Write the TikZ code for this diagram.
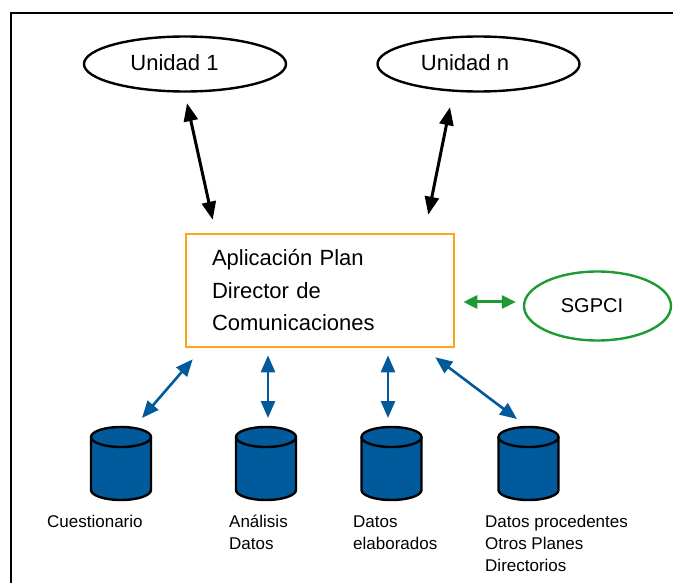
\documentclass[tikz,border=0pt]{standalone}
\usepackage{fontspec}
\setmainfont{Liberation Sans}
\usetikzlibrary{arrows.meta,calc,shapes.geometric}
\definecolor{dbblue}{HTML}{005A9B}
\definecolor{boxorange}{HTML}{FBA51A}
\definecolor{sggreen}{HTML}{1E9A35}
\tikzset{
  dbcyl/.pic={
    \coordinate (-top) at (0,0);
    \path[fill=dbblue, draw=black, line width=2.4pt, line join=round]
      (-30,10) -- (-30,63) arc[start angle=180, end angle=360, x radius=30pt, y radius=10pt]
      -- (30,10) arc[start angle=0, end angle=180, x radius=30pt, y radius=10pt] -- cycle;
    \draw[line width=2.4pt] (-30,10) arc[start angle=180, end angle=360, x radius=30pt, y radius=10pt];
  }
}
\begin{document}
\begin{tikzpicture}[x=1pt,y=-1pt,
  unit/.style={ellipse, draw=black, line width=2.4pt, minimum width=202pt, minimum height=55pt, inner sep=0pt},
  sgpci/.style={ellipse, draw=sggreen, line width=2.4pt, minimum width=147pt, minimum height=69pt, inner sep=0pt},
  bigtext/.style={font=\fontsize{22}{26}\selectfont, inner sep=0pt},
  mainbox/.style={draw=boxorange, line width=2.6pt, minimum width=268pt, minimum height=113pt,
    text width=216pt, inner xsep=26pt, inner ysep=0pt, align=left,
    font=\fontsize{22}{32.5}\selectfont},
  lbl/.style={font=\fontsize{17}{22}\selectfont, inner sep=0pt, align=left, anchor=base west},
  blackarrow/.style={line width=3pt, {Triangle[length=18pt,width=14pt]}-{Triangle[length=18pt,width=14pt]}},
  bluearrow/.style={draw=dbblue, line width=2.6pt, {Triangle[length=17pt,width=14pt]}-{Triangle[length=17pt,width=14pt]}},
  greenarrow/.style={draw=sggreen, line width=3pt, {Triangle[length=14pt,width=13pt]}-{Triangle[length=14pt,width=13pt]}}
]
\useasboundingbox (0,0) rectangle (673,583);
\clip (0,0) rectangle (673,583);
\draw[line width=2.6pt] (11,13) rectangle (720,640);

% top units
\node[unit] (u1) at (185,64) {};
\node[bigtext] (u1t) at (174.5,63) {Unidad 1};
\node[unit] (u2) at (478.5,64) {};
\node[bigtext] (u2t) at (465,63) {Unidad n};

% main application box
\node[mainbox] (box) at (320,290.5) {Aplicación Plan\\Director de\\Comunicaciones};

% SGPCI
\node[sgpci] (s) at (597.5,306) {};
\node[bigtext, font=\fontsize{20}{24}\selectfont] (st) at (592,306) {SGPCI};

% databases
\pic (c1) at (121,427) {dbcyl};
\pic (c2) at (266,427) {dbcyl};
\pic (c3) at (391.5,427) {dbcyl};
\pic (c4) at (528.5,427) {dbcyl};

% labels (base anchor = baseline of last line)
\node[lbl] (l1) at (47,527) {Cuestionario};
\node[lbl] (l2) at (229,549) {Análisis\\Datos};
\node[lbl] (l3) at (353,549) {Datos\\elaborados};
\node[lbl] (l4) at (485,571) {Datos procedentes\\Otros Planes\\Directorios};

% connectors
\draw[blackarrow] ($(u1.south)+(2,10.5)$) -- ($(box.north west)+(28,-13)$);
\draw[blackarrow] ($(u2.south)+(-28.5,14.5)$) -- ($(box.north east)+(-27,-18)$);
\draw[greenarrow] ($(box.east)+(8,11.5)$) -- ($(s.west)+(-7,-4)$);
\draw[bluearrow] ($(box.south west)+(8,11)$) -- ($(c1-top)+(21,-9)$);
\draw[bluearrow] ($(c2-top |- box.south)+(2,7)$) -- ($(c2-top)+(2,-9)$);
\draw[bluearrow] ($(c3-top |- box.south)+(-3.5,7)$) -- ($(c3-top)+(-3.5,-9)$);
\draw[bluearrow] ($(box.south east)+(-20,9)$) -- ($(c4-top)+(-11.5,-8)$);
\end{tikzpicture}
\end{document}
